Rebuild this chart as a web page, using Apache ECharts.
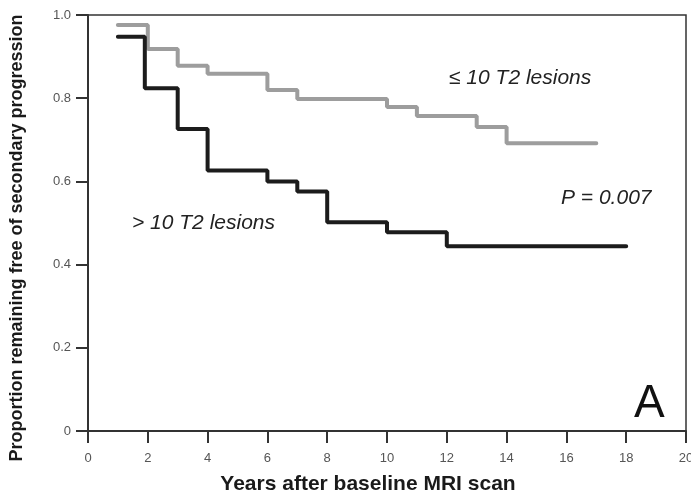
<!DOCTYPE html>
<html>
<head>
<meta charset="utf-8">
<script src="https://cdn.jsdelivr.net/npm/echarts@6/dist/echarts.min.js"></script>
<style>
html, body { margin: 0; padding: 0; background: #fff; }
#chart { width: 691px; height: 494px; }
</style>
</head>
<body>
<div id="chart"></div>
<script>
// Kaplan-Meier steps, years after baseline vs proportion free of SP
var lowYears = [1, 2, 3, 4, 6, 7, 10, 11, 13, 14, 17];
var lowValues = [0.976, 0.918, 0.878, 0.859, 0.820, 0.798, 0.779, 0.757, 0.731, 0.692, 0.692];

var highYears = [1, 1.9, 3, 4, 6, 7, 8, 10, 12, 18];
var highValues = [0.948, 0.824, 0.726, 0.626, 0.600, 0.576, 0.502, 0.478, 0.444, 0.444];

var xTicks = [0, 2, 4, 6, 8, 10, 12, 14, 16, 18, 20];
var yTicks = [0, 0.2, 0.4, 0.6, 0.8, 1.0];

var FONT = '"Liberation Sans", Arial, Helvetica, sans-serif';

function pairs(xs, ys) {
    return xs.map(function (x, i) { return [x, ys[i]]; });
}

var chart = echarts.init(document.getElementById('chart'));

var option = {
    backgroundColor: '#fff',
    animation: false,
    grid: {
        left: 88,
        right: 5,
        top: 15,
        bottom: 63,
        outerBoundsMode: 'none',
        containLabel: false,
        show: true,
        borderColor: '#333',
        borderWidth: 1.5
    },
    xAxis: {
        type: 'value',
        min: xTicks[0],
        max: xTicks[xTicks.length - 1],
        interval: 2,
        axisLine: { lineStyle: { color: '#333', width: 2 } },
        axisTick: { show: true, length: 12, lineStyle: { color: '#333', width: 2 } },
        axisLabel: { margin: 21, fontFamily: FONT, fontSize: 13, color: '#555' },
        splitLine: { show: false }
    },
    yAxis: {
        type: 'value',
        min: yTicks[0],
        max: yTicks[yTicks.length - 1],
        interval: 0.2,
        axisLine: { show: true, lineStyle: { color: '#333', width: 2 } },
        axisTick: { show: true, length: 12, lineStyle: { color: '#333', width: 2 } },
        axisLabel: {
            margin: 17,
            fontFamily: FONT,
            fontSize: 13,
            color: '#555',
            formatter: function (v) { return v === 0 ? '0' : v.toFixed(1); }
        },
        splitLine: { show: false }
    },
    series: [
        {
            name: '≤ 10 T2 lesions',
            type: 'line',
            step: 'end',
            symbol: 'none',
            lineStyle: { color: '#9d9d9d', width: 4, cap: 'round' },
            data: pairs(lowYears, lowValues)
        },
        {
            name: '> 10 T2 lesions',
            type: 'line',
            step: 'end',
            symbol: 'none',
            lineStyle: { color: '#1c1c1c', width: 4, cap: 'round' },
            data: pairs(highYears, highValues)
        }
    ],
    graphic: [
        {
            // axis titles sit a bit off-centre in the original, so place them by hand
            type: 'text', x: 17, y: 238, rotation: Math.PI / 2,
            style: {
                text: 'Proportion remaining free of secondary progression',
                font: 'bold 18px ' + FONT, fill: '#1a1a1a',
                align: 'center', verticalAlign: 'middle'
            }
        },
        {
            type: 'text', x: 368, y: 484,
            style: {
                text: 'Years after baseline MRI scan',
                font: 'bold 21px ' + FONT, fill: '#1a1a1a',
                align: 'center', verticalAlign: 'middle'
            }
        },
        {
            type: 'text', left: 449, top: 68,
            style: { text: '≤ 10 T2 lesions', font: 'italic 21px ' + FONT, fill: '#222' }
        },
        {
            type: 'text', left: 561, top: 188,
            style: { text: 'P = 0.007', font: 'italic 21px ' + FONT, fill: '#222' }
        },
        {
            type: 'text', left: 132, top: 213,
            style: { text: '> 10 T2 lesions', font: 'italic 21px ' + FONT, fill: '#222' }
        },
        {
            type: 'text', left: 634, top: 381,
            style: { text: 'A', font: '46px ' + FONT, fill: '#111' }
        }
    ]
};

chart.setOption(option);
</script>
</body>
</html>
